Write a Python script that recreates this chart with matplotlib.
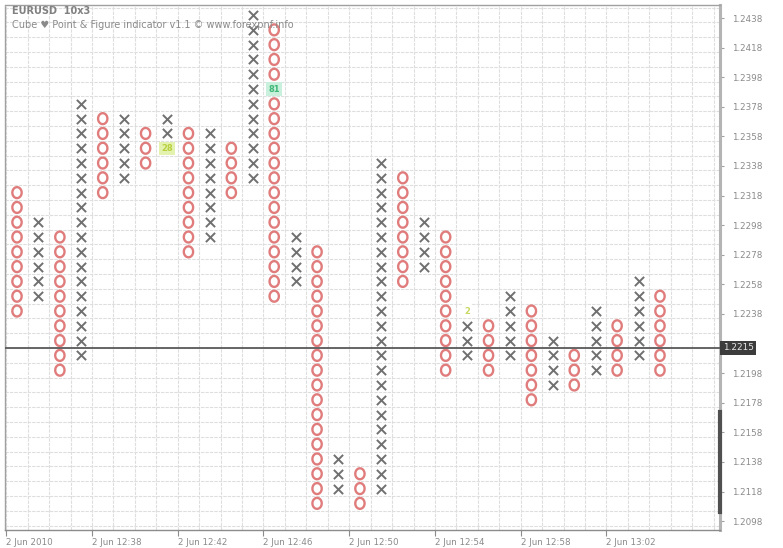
import matplotlib
matplotlib.use("Agg")
import matplotlib.pyplot as plt
from matplotlib.path import Path
import numpy as np

# ---- data ----
box = 0.0010
kinds = ["O","X","O","X","O","X","O","X","O","X","O","X","O","X","O","X",
         "O","X","O","X","O","X","O","X","O","X","O","X","O","X","O"]
highs = [1.2320,1.2300,1.2290,1.2380,1.2370,1.2370,1.2360,1.2370,1.2360,1.2360,
         1.2350,1.2440,1.2430,1.2290,1.2280,1.2140,1.2130,1.2340,1.2330,1.2300,
         1.2290,1.2240,1.2230,1.2250,1.2240,1.2220,1.2210,1.2240,1.2230,1.2260,1.2250]
lows = [1.2240,1.2250,1.2200,1.2210,1.2320,1.2330,1.2340,1.2350,1.2280,1.2290,
        1.2320,1.2330,1.2250,1.2260,1.2110,1.2120,1.2110,1.2120,1.2260,1.2270,
        1.2200,1.2210,1.2200,1.2210,1.2180,1.2190,1.2190,1.2200,1.2200,1.2210,1.2200]
# time/count markers: (column index, price, text, bg, fg)
marks = [(7, 1.2350, "28", "#e4f2b0", "#b8d040"),
         (12, 1.2390, "81", "#c8f0dc", "#40b878"),
         (21, 1.2240, "2", "#ffffff", "#c8d860")]
current_price = 1.2215
ytick_vals = [1.2438,1.2418,1.2398,1.2378,1.2358,1.2338,1.2318,1.2298,1.2278,
              1.2258,1.2238,1.2198,1.2178,1.2158,1.2138,1.2118,1.2098]
xtick_cols = [0,4,8,12,16,20,24,28]
xtick_labels = ["2 Jun 2010","2 Jun 12:38","2 Jun 12:42","2 Jun 12:46",
                "2 Jun 12:50","2 Jun 12:54","2 Jun 12:58","2 Jun 13:02"]

# ---- figure ----
fig = plt.figure(figsize=(7.83,5.48), dpi=100)
fig.patch.set_facecolor("white")
ax = fig.add_axes([5/783, 18/548, 715/783, 525/548])
ax.set_facecolor("white")

ax.set_xlim(-0.56, 32.8)
ax.set_ylim(1.2092, 1.24468)

# grid
gcol = "#dedede"
for xb in np.arange(-0.5, 33, 1.0):
    ax.axvline(xb, color=gcol, lw=0.8, ls=(0,(3,1)), zorder=0)
for yb in np.arange(1.2095, 1.2450, box):
    ax.axhline(yb, color=gcol, lw=0.8, ls=(0,(3,1)), zorder=0)

mark_set = {(c, round(p,4)) for c,p,_,_,_ in marks}
xs_x, xs_y, os_x, os_y = [], [], [], []
for i,(k,h,l) in enumerate(zip(kinds, highs, lows)):
    n = int(round((h-l)/box)) + 1
    for j in range(n):
        p = round(l + j*box, 4)
        if (i,p) in mark_set:
            continue
        if k == "X":
            xs_x.append(i); xs_y.append(p)
        else:
            os_x.append(i); os_y.append(p)

# slightly tall oval marker for O
t = np.linspace(0, 2*np.pi, 60)
oval = Path(np.column_stack([0.85*np.cos(t), np.sin(t)]), closed=True)

ax.scatter(xs_x, xs_y, marker="x", s=44, c="#707070", linewidths=1.4, zorder=3)
ax.scatter(os_x, os_y, marker=oval, s=62, facecolors="none", edgecolors="#e07c7c",
           linewidths=1.7, zorder=3)

for c,p,txt,bg,fg in marks:
    ax.text(c, p, txt, ha="center", va="center", fontsize=6, color=fg, fontweight="bold",
            bbox=dict(boxstyle="square,pad=0.25", fc=bg, ec="none"), zorder=4)

# current price line
ax.axhline(current_price, color="#5a5a5a", lw=1.3, zorder=5)

# spines
for s in ["top","left"]:
    ax.spines[s].set_color("#a0a0a0")
    ax.spines[s].set_linestyle((0,(2,1)))
    ax.spines[s].set_linewidth(1.0)
ax.spines["right"].set_color("#b4b4b4")
ax.spines["right"].set_linewidth(2.2)
ax.spines["bottom"].set_color("#8c8c8c")
ax.spines["bottom"].set_linewidth(1.0)

# right dark bar
ax.plot([1.0,1.0],[0.0343,0.2248], transform=ax.transAxes, color="#505050",
        lw=3, clip_on=False, zorder=6)

# y ticks on right
ax.yaxis.tick_right()
ax.set_yticks(ytick_vals)
ax.set_yticklabels([f"{v:.4f}" for v in ytick_vals])
ax.tick_params(axis="y", which="both", length=3, width=0.8, color="#a0a0a0",
               labelsize=6.3, labelcolor="#8a8a8a", pad=6)

# x ticks
ax.set_xticks([c-0.5 for c in xtick_cols])
ax.set_xticklabels(xtick_labels, ha="left")
ax.tick_params(axis="x", length=4, width=0.8, color="#8c8c8c", labelsize=6.3,
               labelcolor="#8a8a8a", pad=2)

# current price label
ax.text(1.004, current_price, f"{current_price:.4f}", transform=ax.get_yaxis_transform(),
        ha="left", va="center", fontsize=6.4, color="#e8e8e8",
        bbox=dict(boxstyle="square,pad=0.3", fc="#3c3c3c", ec="none"),
        clip_on=False, zorder=7)

# titles
fig.text(12/783, 1-11/548, "EURUSD  10x3", ha="left", va="center", fontsize=7,
         color="#808080", fontweight="bold")
fig.text(12/783, 1-25/548, "Cube \u2665 Point & Figure indicator v1.1 \u00a9 www.forexpnf.info",
         ha="left", va="center", fontsize=7, color="#8a8a8a")

fig.savefig("out.png", dpi=100, facecolor="white")
